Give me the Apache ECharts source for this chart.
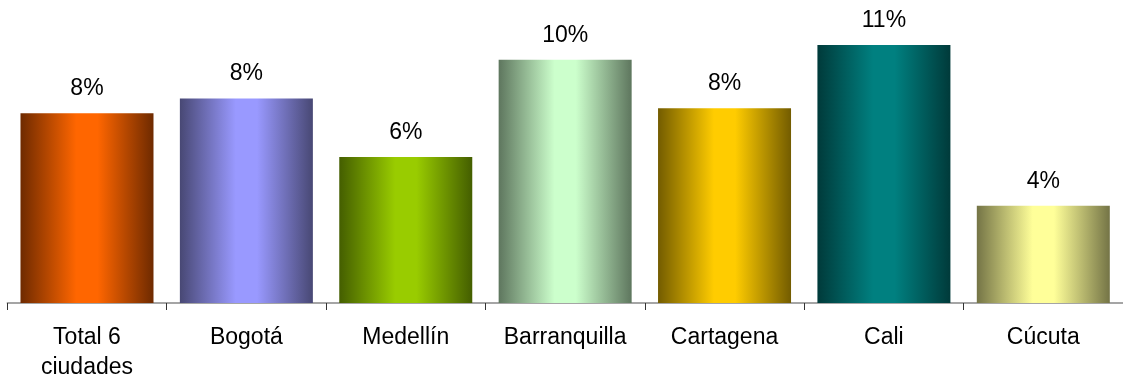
<!DOCTYPE html>
<html>
<head>
<meta charset="utf-8">
<script src="https://cdn.jsdelivr.net/npm/echarts@6/dist/echarts.min.js"></script>
<style>
html,body{margin:0;padding:0;background:#fff;}
#chart{width:1123px;height:383px;}
</style>
</head>
<body>
<div id="chart"></div>
<script>
const categories = ['Total 6\nciudades', 'Bogotá', 'Medellín', 'Barranquilla', 'Cartagena', 'Cali', 'Cúcuta'];
const values = [7.8, 8.4, 6.0, 10.0, 8.0, 10.6, 4.0];
const edgeColors = ['#6e2a00', '#484874', '#445e00', '#5e765e', '#735c00', '#003a3a', '#747446'];
const centerColors = ['#ff6600', '#9999ff', '#99cc00', '#ccffcc', '#ffcc00', '#008080', '#ffff99'];

const FONT = '"Liberation Sans", Arial, sans-serif';

const chart = echarts.init(document.getElementById('chart'), null, {renderer: 'canvas'});

const data = values.map((v, i) => ({
  value: v,
  itemStyle: {
    color: new echarts.graphic.LinearGradient(0, 0, 1, 0, [
      {offset: 0, color: edgeColors[i]},
      {offset: 0.42, color: centerColors[i]},
      {offset: 0.58, color: centerColors[i]},
      {offset: 1, color: edgeColors[i]}
    ])
  }
}));

chart.setOption({
  animation: false,
  backgroundColor: '#ffffff',
  grid: {left: 7.3, top: 11, width: 1121, height: 294, containLabel: false},
  xAxis: {
    type: 'category',
    data: categories,
    axisLine: {show: true, lineStyle: {color: '#888888', width: 1.5}},
    axisTick: {show: true, length: 7, lineStyle: {color: '#333333', width: 1}},
    axisLabel: {
      color: '#000000',
      fontFamily: FONT,
      fontSize: 23,
      lineHeight: 30,
      margin: 20,
      interval: 0
    }
  },
  yAxis: {
    type: 'value',
    min: 0,
    max: 12,
    show: false,
    splitLine: {show: false}
  },
  series: [{
    type: 'bar',
    data: data,
    barWidth: 133,
    label: {
      show: true,
      position: 'top',
      distance: 13,
      color: '#000000',
      fontFamily: FONT,
      fontSize: 23,
      formatter: p => Math.round(p.value) + '%'
    }
  }]
});
</script>
</body>
</html>
